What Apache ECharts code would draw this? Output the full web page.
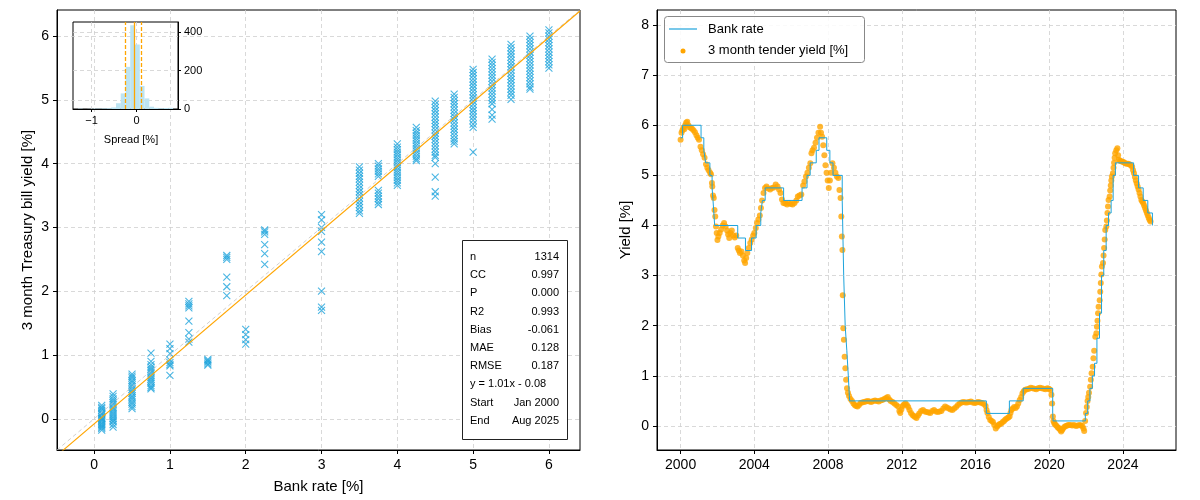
<!DOCTYPE html>
<html>
<head>
<meta charset="utf-8">
<script src="https://cdn.jsdelivr.net/npm/echarts@6/dist/echarts.min.js"></script>
<style>
html,body{margin:0;padding:0;background:#fff}
#main{width:1200px;height:500px}
</style>
</head>
<body>
<div id="main"></div>
<script>
var FONT = '"Liberation Sans", Arial, sans-serif';

// left panel: bank rate levels and the 3m bill yields seen at each level
var rateLevels = [0.1, 0.25, 0.5, 0.75, 1.0, 1.25, 1.5, 1.75, 2.0, 2.25, 3.0, 3.5, 3.75, 4.0, 4.25, 4.5, 4.75, 5.0, 5.25, 5.5, 5.75, 6.0];
var yieldsAtRate = [
    [0.21, 0.18, 0.16, 0.13, 0.10, 0.08, 0.06, 0.03, 0.01, 0.0, -0.02, -0.04, -0.07, -0.09, -0.11, -0.13, -0.15, -0.18],
    [0.39, 0.35, 0.31, 0.28, 0.25, 0.22, 0.18, 0.15, 0.12, 0.09, 0.06, 0.03, 0.0, -0.03, -0.05, -0.09, -0.13],
    [0.70, 0.67, 0.64, 0.60, 0.57, 0.53, 0.50, 0.46, 0.43, 0.40, 0.36, 0.33, 0.30, 0.26, 0.23, 0.19, 0.16],
    [1.03, 0.90, 0.85, 0.81, 0.78, 0.75, 0.72, 0.68, 0.65, 0.62, 0.59, 0.56, 0.52, 0.49, 0.47],
    [1.17, 1.10, 1.02, 0.92, 0.88, 0.85, 0.83, 0.68],
    [1.84, 1.80, 1.77, 1.74, 1.53, 1.35, 1.25, 1.20],
    [0.93, 0.91, 0.89, 0.86, 0.84],
    [2.56, 2.53, 2.50, 2.22, 2.07, 1.93],
    [1.40, 1.32, 1.24, 1.17],
    [2.96, 2.93, 2.89, 2.73, 2.59, 2.42],
    [3.20, 3.12, 3.00, 2.94, 2.77, 2.62, 2.00, 1.75, 1.70],
    [3.95, 3.90, 3.85, 3.80, 3.76, 3.71, 3.66, 3.61, 3.56, 3.51, 3.46, 3.41, 3.36, 3.31, 3.26, 3.22],
    [4.00, 3.96, 3.92, 3.88, 3.84, 3.80, 3.58, 3.54, 3.49, 3.45, 3.40, 3.36],
    [4.31, 4.26, 4.22, 4.18, 4.14, 4.10, 4.06, 4.02, 3.98, 3.94, 3.90, 3.86, 3.82, 3.78, 3.74, 3.70, 3.66],
    [4.57, 4.52, 4.48, 4.44, 4.40, 4.36, 4.32, 4.28, 4.24, 4.20, 4.16, 4.12, 4.08, 4.05],
    [4.98, 4.93, 4.88, 4.83, 4.78, 4.73, 4.68, 4.63, 4.58, 4.53, 4.48, 4.43, 4.38, 4.33, 4.28, 4.23, 4.18, 4.13, 4.10, 4.00, 3.79, 3.56, 3.49],
    [5.09, 5.04, 4.99, 4.94, 4.89, 4.84, 4.79, 4.74, 4.69, 4.64, 4.59, 4.54, 4.49, 4.44, 4.39, 4.35, 4.31],
    [5.48, 5.43, 5.38, 5.33, 5.28, 5.23, 5.18, 5.13, 5.08, 5.03, 4.98, 4.93, 4.88, 4.83, 4.78, 4.73, 4.68, 4.62, 4.57, 4.18],
    [5.64, 5.59, 5.54, 5.49, 5.44, 5.39, 5.34, 5.29, 5.24, 5.19, 5.14, 5.09, 5.04, 4.99, 4.94, 4.85, 4.76, 4.70],
    [5.87, 5.82, 5.77, 5.72, 5.67, 5.62, 5.57, 5.52, 5.47, 5.42, 5.37, 5.32, 5.27, 5.22, 5.17, 5.12, 5.07, 5.01],
    [6.00, 5.95, 5.90, 5.85, 5.80, 5.75, 5.70, 5.65, 5.60, 5.55, 5.50, 5.45, 5.40, 5.35, 5.30, 5.25, 5.20, 5.17],
    [6.10, 6.05, 6.00, 5.95, 5.90, 5.85, 5.80, 5.75, 5.70, 5.65, 5.60, 5.55, 5.50]
];
var fitSlope = 1.01, fitIntercept = -0.08;

// inset: spread histogram (20 bins, centres and counts)
var spreadBins = [-1.247, -1.142, -1.036, -0.931, -0.825, -0.720, -0.614, -0.509, -0.403, -0.298,
    -0.192, -0.087, 0.019, 0.124, 0.230, 0.335, 0.441, 0.546, 0.652, 0.757];
var spreadCounts = [2, 0, 1, 2, 2, 3, 4, 8, 30, 81, 219, 435, 335, 120, 55, 12, 6, 4, 5, 6];
var spreadMean = -0.061, spreadStd = 0.175;

var statRows = [
    ['n', '1314'], ['CC', '0.997'], ['P', '0.000'], ['R2', '0.993'], ['Bias', '-0.061'],
    ['MAE', '0.128'], ['RMSE', '0.187'], ['y = 1.01x - 0.08', ''], ['Start', 'Jan 2000'], ['End', 'Aug 2025']
];

// right panel: bank rate steps (decimal years) and tender yields
var bankDates = [2000.0, 2000.11, 2001.11, 2001.26, 2001.36, 2001.59, 2001.71, 2001.76, 2001.85, 2003.10, 2003.52, 2003.85,
    2004.10, 2004.35, 2004.44, 2004.59, 2005.59, 2006.59, 2006.86, 2007.03, 2007.36, 2007.51, 2007.93, 2008.10, 2008.27,
    2008.77, 2008.85, 2008.93, 2009.02, 2009.10, 2009.17, 2016.59, 2017.84, 2018.59, 2020.19, 2020.21, 2021.96, 2022.09,
    2022.21, 2022.34, 2022.46, 2022.59, 2022.73, 2022.84, 2022.96, 2023.09, 2023.22, 2023.36, 2023.47, 2023.59, 2024.58,
    2024.85, 2025.10, 2025.35, 2025.60];
var bankRates = [5.75, 6.0, 5.75, 5.5, 5.25, 5.0, 4.75, 4.5, 4.0, 3.75, 3.5, 3.75,
    4.0, 4.25, 4.5, 4.75, 4.5, 4.75, 5.0, 5.25, 5.5, 5.75, 5.5, 5.25, 5.0,
    4.5, 3.0, 2.0, 1.5, 1.0, 0.5, 0.25, 0.5, 0.75, 0.25, 0.1, 0.25, 0.5,
    0.75, 1.0, 1.25, 1.75, 2.25, 3.0, 3.5, 4.0, 4.25, 4.5, 5.0, 5.25, 5.0,
    4.75, 4.5, 4.25, 4.0];

var tender = [
    [2000.00, 5.71], [2000.05, 5.85], [2000.10, 5.90], [2000.15, 5.95], [2000.20, 5.92], [2000.25, 6.00], [2000.30, 6.05],
    [2000.36, 6.07], [2000.42, 6.00], [2000.48, 5.96], [2000.55, 5.95], [2000.62, 5.93], [2000.70, 5.90], [2000.78, 5.86],
    [2000.86, 5.80], [2000.93, 5.75], [2001.00, 5.71], [2001.08, 5.57], [2001.15, 5.50], [2001.22, 5.42], [2001.30, 5.35],
    [2001.38, 5.22], [2001.45, 5.15], [2001.52, 5.10], [2001.60, 5.05], [2001.65, 5.02], [2001.70, 4.85], [2001.72, 4.78],
    [2001.76, 4.60], [2001.80, 4.55], [2001.84, 4.31], [2001.88, 4.18], [2001.92, 3.98], [2001.96, 3.85], [2002.00, 3.71],
    [2002.05, 3.78], [2002.12, 3.85], [2002.20, 3.92], [2002.28, 4.00], [2002.36, 4.05], [2002.44, 3.98], [2002.52, 3.90],
    [2002.58, 3.82], [2002.64, 3.75], [2002.70, 3.85], [2002.78, 3.90], [2002.86, 3.80], [2002.94, 3.76], [2003.02, 3.80],
    [2003.10, 3.55], [2003.16, 3.50], [2003.22, 3.45], [2003.30, 3.48], [2003.38, 3.40], [2003.45, 3.30], [2003.50, 3.25],
    [2003.56, 3.35], [2003.62, 3.45], [2003.70, 3.55], [2003.78, 3.65], [2003.86, 3.72], [2003.94, 3.80], [2004.00, 3.85],
    [2004.08, 3.95], [2004.15, 4.05], [2004.22, 4.12], [2004.30, 4.20], [2004.36, 4.35], [2004.42, 4.50], [2004.50, 4.65],
    [2004.58, 4.75], [2004.66, 4.78], [2004.76, 4.74], [2004.86, 4.72], [2004.96, 4.75], [2005.06, 4.76], [2005.16, 4.82],
    [2005.26, 4.78], [2005.34, 4.72], [2005.42, 4.65], [2005.50, 4.52], [2005.58, 4.45], [2005.68, 4.44], [2005.78, 4.42],
    [2005.88, 4.45], [2005.98, 4.43], [2006.08, 4.42], [2006.18, 4.45], [2006.28, 4.50], [2006.36, 4.58], [2006.45, 4.60],
    [2006.55, 4.62], [2006.65, 4.80], [2006.72, 4.88], [2006.80, 4.98], [2006.88, 5.05], [2006.96, 5.15], [2007.04, 5.24],
    [2007.10, 5.44], [2007.16, 5.50], [2007.24, 5.55], [2007.32, 5.65], [2007.40, 5.75], [2007.48, 5.85], [2007.57, 5.97],
    [2007.62, 5.85], [2007.68, 5.77], [2007.74, 5.60], [2007.80, 5.40], [2007.86, 5.20], [2007.92, 5.05], [2007.98, 4.90],
    [2008.04, 4.75], [2008.10, 4.90], [2008.16, 5.05], [2008.24, 5.24], [2008.32, 5.15], [2008.40, 5.05], [2008.48, 4.98],
    [2008.56, 4.95], [2008.62, 4.71], [2008.68, 4.55], [2008.72, 4.18], [2008.75, 3.78], [2008.78, 3.51], [2008.80, 2.61],
    [2008.83, 1.95], [2008.86, 1.72], [2008.90, 1.38], [2008.94, 1.15], [2008.98, 0.92],
    [2009.03, 0.75], [2009.08, 0.66], [2009.14, 0.60], [2009.22, 0.54], [2009.30, 0.50], [2009.38, 0.45], [2009.45, 0.42],
    [2009.52, 0.40], [2009.60, 0.39], [2009.68, 0.42], [2009.76, 0.46], [2009.85, 0.47], [2009.95, 0.48], [2010.05, 0.49],
    [2010.15, 0.50], [2010.25, 0.49], [2010.35, 0.48], [2010.45, 0.50], [2010.55, 0.51], [2010.65, 0.50], [2010.75, 0.49],
    [2010.85, 0.51], [2010.95, 0.52], [2011.05, 0.54], [2011.15, 0.56], [2011.24, 0.58], [2011.32, 0.53], [2011.40, 0.50],
    [2011.50, 0.48], [2011.60, 0.45], [2011.70, 0.42], [2011.80, 0.39], [2011.87, 0.30], [2011.92, 0.26], [2011.98, 0.33],
    [2012.05, 0.40], [2012.12, 0.43], [2012.20, 0.45], [2012.28, 0.42], [2012.35, 0.38], [2012.42, 0.32], [2012.50, 0.26],
    [2012.58, 0.22], [2012.65, 0.20], [2012.72, 0.18], [2012.80, 0.16], [2012.88, 0.21], [2012.95, 0.25], [2013.05, 0.30],
    [2013.15, 0.32], [2013.25, 0.29], [2013.35, 0.28], [2013.45, 0.27], [2013.55, 0.26], [2013.65, 0.30], [2013.75, 0.32],
    [2013.85, 0.29], [2013.95, 0.28], [2014.05, 0.29], [2014.15, 0.30], [2014.25, 0.35], [2014.35, 0.39], [2014.45, 0.37],
    [2014.55, 0.35], [2014.65, 0.33], [2014.75, 0.32], [2014.85, 0.35], [2014.95, 0.38], [2015.05, 0.42], [2015.15, 0.45],
    [2015.25, 0.47], [2015.35, 0.48], [2015.45, 0.47], [2015.55, 0.47], [2015.65, 0.48], [2015.75, 0.49], [2015.85, 0.47],
    [2015.95, 0.46], [2016.05, 0.47], [2016.15, 0.48], [2016.25, 0.47], [2016.35, 0.46], [2016.45, 0.44], [2016.55, 0.40],
    [2016.60, 0.32], [2016.65, 0.26], [2016.72, 0.18], [2016.80, 0.12], [2016.88, 0.10], [2016.95, 0.08], [2017.02, 0.02],
    [2017.10, -0.05], [2017.18, -0.01], [2017.25, 0.02], [2017.32, 0.04], [2017.40, 0.05], [2017.48, 0.08], [2017.55, 0.10],
    [2017.62, 0.13], [2017.70, 0.15], [2017.78, 0.17], [2017.85, 0.19], [2017.90, 0.26], [2017.95, 0.32], [2018.02, 0.35],
    [2018.10, 0.38], [2018.18, 0.36], [2018.25, 0.39], [2018.32, 0.45], [2018.40, 0.52], [2018.48, 0.58], [2018.55, 0.65],
    [2018.62, 0.69], [2018.70, 0.72], [2018.80, 0.73], [2018.90, 0.74], [2019.00, 0.76], [2019.10, 0.75], [2019.20, 0.74],
    [2019.30, 0.73], [2019.40, 0.75], [2019.50, 0.76], [2019.60, 0.75], [2019.70, 0.74], [2019.80, 0.73], [2019.90, 0.75],
    [2019.98, 0.74], [2020.05, 0.72], [2020.12, 0.62], [2020.16, 0.45], [2020.20, 0.19], [2020.23, 0.10], [2020.27, 0.06],
    [2020.32, 0.03], [2020.38, 0.01], [2020.45, -0.02], [2020.50, -0.04], [2020.55, -0.05], [2020.60, -0.08], [2020.65, -0.11],
    [2020.70, -0.08], [2020.75, -0.05], [2020.82, -0.02], [2020.90, 0.00], [2020.98, 0.01], [2021.05, 0.02], [2021.15, 0.02],
    [2021.25, 0.01], [2021.35, 0.02], [2021.45, 0.00], [2021.55, 0.01], [2021.65, 0.02], [2021.72, 0.01], [2021.80, 0.00],
    [2021.86, -0.05], [2021.90, -0.10], [2021.95, 0.10], [2022.00, 0.26], [2022.04, 0.38], [2022.08, 0.50], [2022.12, 0.58],
    [2022.16, 0.66], [2022.22, 0.78], [2022.26, 0.92], [2022.30, 1.05], [2022.36, 1.18], [2022.40, 1.35], [2022.44, 1.50],
    [2022.50, 1.78], [2022.56, 1.85], [2022.59, 1.98], [2022.62, 2.10], [2022.65, 2.25], [2022.68, 2.38], [2022.74, 2.51],
    [2022.77, 2.68], [2022.80, 2.85], [2022.83, 3.02], [2022.86, 3.18], [2022.92, 3.25], [2022.95, 3.40], [2022.98, 3.55],
    [2023.01, 3.72], [2023.04, 3.91], [2023.10, 3.98], [2023.13, 4.10], [2023.16, 4.25], [2023.19, 4.38], [2023.22, 4.51],
    [2023.28, 4.58], [2023.31, 4.70], [2023.34, 4.80], [2023.37, 4.90], [2023.40, 4.98], [2023.46, 5.04], [2023.49, 5.15],
    [2023.52, 5.25], [2023.55, 5.35], [2023.58, 5.44], [2023.64, 5.50], [2023.70, 5.54], [2023.74, 5.40], [2023.78, 5.31],
    [2023.84, 5.29], [2023.90, 5.28], [2023.98, 5.27], [2024.05, 5.26], [2024.12, 5.24], [2024.20, 5.23], [2024.28, 5.23],
    [2024.35, 5.22], [2024.42, 5.20], [2024.50, 5.17], [2024.55, 5.10], [2024.60, 5.04], [2024.65, 4.97], [2024.70, 4.90],
    [2024.75, 4.84], [2024.80, 4.78], [2024.85, 4.72], [2024.90, 4.65], [2024.95, 4.58], [2025.00, 4.51], [2025.05, 4.48],
    [2025.10, 4.45], [2025.15, 4.40], [2025.20, 4.35], [2025.25, 4.30], [2025.30, 4.25], [2025.35, 4.20], [2025.40, 4.15],
    [2025.45, 4.11], [2025.50, 4.08]
];

var rateTicks = [0, 1, 2, 3, 4, 5, 6];
var yearTicks = [2000, 2004, 2008, 2012, 2016, 2020, 2024];
var yieldTicks = [0, 1, 2, 3, 4, 5, 6, 7, 8];
var spreadTicks = [-1, 0];
var countTicks = [0, 200, 400];

var BLUE = '#1ea4dc', ORANGE = '#FFA500';

var scatterPts = [];
rateLevels.forEach(function (r, i) {
    yieldsAtRate[i].forEach(function (y) { scatterPts.push([r, y]); });
});
var lo = -0.49, hi = 6.41;
var bankStep = bankDates.map(function (d, i) { return [d, bankRates[i]]; });
var hist = spreadBins.map(function (b, i) { return [b, spreadCounts[i]]; });

function axis(o) {
    return {
        type: 'value',
        gridIndex: o.grid,
        min: o.min, max: o.max,
        position: o.position,
        name: o.name || '',
        nameLocation: 'middle',
        nameGap: o.nameGap || 20,
        nameTextStyle: { fontFamily: FONT, fontSize: 15, color: '#000' },
        axisLine: { show: true, onZero: false, lineStyle: { color: '#000', width: 1 } },
        axisTick: { show: true, inside: false, length: o.tickLen || 4, customValues: o.ticks, lineStyle: { color: '#000' } },
        axisLabel: {
            customValues: o.ticks, margin: o.margin || 8,
            fontFamily: FONT, fontSize: o.fontSize || 14, color: '#000',
            // matplotlib style minus sign
            formatter: function (v) { return String(v).replace('-', '\u2212'); }
        },
        splitLine: { show: true, lineStyle: { color: '#cfcfcf', width: 0.8, type: [4, 3] } }
    };
}

var chart = echarts.init(document.getElementById('main'));

var graphics = [];
// stats box
graphics.push({
    type: 'rect', shape: { x: 462.5, y: 240.5, width: 105, height: 199 },
    style: { fill: '#fff', stroke: '#222', lineWidth: 1 }, z: 100
});
statRows.forEach(function (row, i) {
    var y = 257 + i * 18.2;
    graphics.push({ type: 'text', z: 101, style: { x: 470, y: y, text: row[0], font: '11px ' + FONT, fill: '#000', align: 'left', verticalAlign: 'middle' } });
    if (row[1]) {
        graphics.push({ type: 'text', z: 101, style: { x: 559, y: y, text: row[1], font: '11px ' + FONT, fill: '#000', align: 'right', verticalAlign: 'middle' } });
    }
});
// inset x label
graphics.push({ type: 'text', z: 101, style: { x: 131, y: 140, text: 'Spread [%]', font: '11px ' + FONT, fill: '#000', align: 'center', verticalAlign: 'middle' } });
// right legend
graphics.push({
    type: 'rect', shape: { x: 664.5, y: 16.5, width: 200, height: 46, r: 3 },
    style: { fill: 'rgba(255,255,255,0.85)', stroke: '#888', lineWidth: 1 }, z: 100
});
graphics.push({ type: 'line', z: 101, shape: { x1: 669, y1: 29, x2: 697, y2: 29 }, style: { stroke: BLUE, lineWidth: 1.2 } });
graphics.push({ type: 'circle', z: 101, shape: { cx: 683, cy: 51, r: 2.5 }, style: { fill: ORANGE } });
graphics.push({ type: 'text', z: 101, style: { x: 708, y: 29, text: 'Bank rate', font: '13px ' + FONT, fill: '#000', verticalAlign: 'middle' } });
graphics.push({ type: 'text', z: 101, style: { x: 708, y: 50, text: '3 month tender yield [%]', font: '13px ' + FONT, fill: '#000', verticalAlign: 'middle' } });

var option = {
    animation: false,
    backgroundColor: '#fff',
    grid: [
        { left: 57, right: 620, top: 10, bottom: 50, show: true, borderColor: '#000', borderWidth: 1 },
        { left: 73, top: 22, width: 105, height: 87, show: true, borderColor: '#000', borderWidth: 1, backgroundColor: 'transparent' },
        { left: 657, right: 24, top: 10, bottom: 50, show: true, borderColor: '#000', borderWidth: 1 }
    ],
    xAxis: [
        axis({ grid: 0, min: lo, max: hi, ticks: rateTicks, name: 'Bank rate [%]', nameGap: 29 }),
        axis({ grid: 1, min: -1.41, max: 0.92, ticks: spreadTicks, fontSize: 11, margin: 6, tickLen: 3 }),
        axis({ grid: 2, min: 1998.72, max: 2026.88, ticks: yearTicks })
    ],
    yAxis: [
        axis({ grid: 0, min: lo, max: hi, ticks: rateTicks, name: '3 month Treasury bill yield [%]', nameGap: 22 }),
        axis({ grid: 1, min: 0, max: 452, ticks: countTicks, position: 'right', fontSize: 11, margin: 6, tickLen: 3 }),
        axis({ grid: 2, min: -0.48, max: 8.30, ticks: yieldTicks, name: 'Yield [%]', nameGap: 24 })
    ],
    series: [
        {
            type: 'scatter', xAxisIndex: 0, yAxisIndex: 0, data: scatterPts,
            symbol: 'path://M0,0L10,10M10,0L0,10', symbolSize: 7,
            itemStyle: { color: 'rgba(0,0,0,0)', borderColor: BLUE, borderWidth: 1.1 }
        },
        {
            type: 'line', xAxisIndex: 0, yAxisIndex: 0, data: [[lo, lo], [hi, hi]],
            showSymbol: false, lineStyle: { color: '#c4c4c4', width: 0.8, type: [4, 3] }
        },
        {
            type: 'line', xAxisIndex: 0, yAxisIndex: 0,
            data: [[lo, fitSlope * lo + fitIntercept], [hi, fitSlope * hi + fitIntercept]],
            showSymbol: false, lineStyle: { color: ORANGE, width: 1.1 }
        },
        {
            type: 'bar', xAxisIndex: 1, yAxisIndex: 1, data: hist, barWidth: 4.8,
            itemStyle: { color: '#bde4f2' },
            markLine: {
                silent: true, symbol: 'none', label: { show: false },
                data: [
                    { xAxis: spreadMean, lineStyle: { color: ORANGE, width: 1.3, type: 'solid' } },
                    { xAxis: spreadMean - spreadStd, lineStyle: { color: ORANGE, width: 1.3, type: [4, 2] } },
                    { xAxis: spreadMean + spreadStd, lineStyle: { color: ORANGE, width: 1.3, type: [4, 2] } }
                ]
            }
        },
        {
            type: 'line', xAxisIndex: 2, yAxisIndex: 2, data: bankStep, step: 'end',
            showSymbol: false, lineStyle: { color: BLUE, width: 1 }
        },
        {
            type: 'scatter', xAxisIndex: 2, yAxisIndex: 2, data: tender,
            symbolSize: 6, itemStyle: { color: ORANGE }
        }
    ],
    graphic: graphics
};
chart.setOption(option);
</script>
</body>
</html>
